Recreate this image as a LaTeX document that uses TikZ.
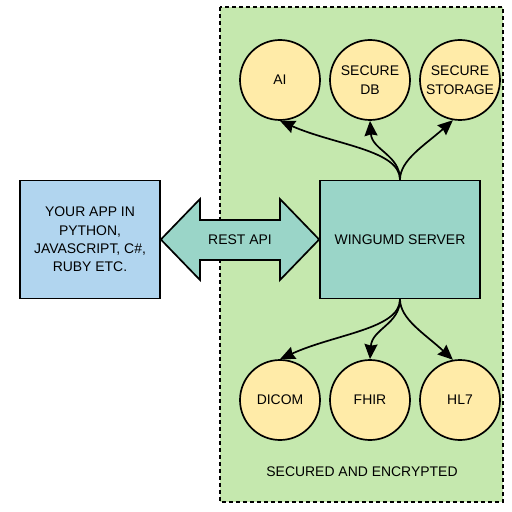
\documentclass[tikz,border=0pt]{standalone}
\usepackage{fontspec}
\setmainfont{Liberation Sans}
\usetikzlibrary{arrows.meta}
\definecolor{zonegreen}{HTML}{C5E8AE}
\definecolor{appblue}{HTML}{B1D5EF}
\definecolor{serverteal}{HTML}{9AD5C8}
\definecolor{circyellow}{HTML}{FFEBA8}
\tikzset{
  lbl/.style={font=\fontsize{14}{18.5}\selectfont, align=center, text=black},
  boxnode/.style={draw=black, line width=1.7bp, minimum width=140bp, minimum height=118bp, lbl},
  circnode/.style={circle, draw=black, line width=1.7bp, fill=circyellow, minimum size=80bp, inner sep=0pt, lbl},
  conn/.style={draw=black, line width=1.7bp, -{Stealth[length=15bp,width=13bp,inset=1.5bp]}},
}
\begin{document}
\begin{tikzpicture}[x=1bp,y=-1bp]
\useasboundingbox (0,0) rectangle (512,512);
% secured zone
\draw[fill=zonegreen, line width=1.7bp, dash pattern=on 4bp off 3bp] (220,7) rectangle (503,502);
\node[lbl] (zone) at (362,472) {SECURED AND ENCRYPTED};
% boxes
\node[boxnode, fill=appblue] (app) at (90,239.5) {YOUR APP IN\\PYTHON,\\JAVASCRIPT, C\#,\\RUBY ETC.};
\node[boxnode, fill=serverteal, minimum width=160bp] (server) at (400,239.5) {WINGUMD SERVER};
% double arrow
\draw[fill=serverteal, line width=1.7bp, line join=miter]
  (app.east) -- (200,199) -- (200,220) -- (280,220) -- (280,199) -- (server.west)
  -- (280,280) -- (280,260) -- (200,260) -- (200,280) -- cycle;
\node[lbl] (rest) at (240,240) {REST API};
% circles
\node[circnode] (ai) at (280,80) {AI};
\node[circnode] (db) at (370,80) {SECURE\\DB};
\node[circnode] (storage) at (460,80) {SECURE\\STORAGE};
\node[circnode] (dicom) at (280,400) {DICOM};
\node[circnode] (fhir) at (370,400) {FHIR};
\node[circnode] (hl7) at (460,400) {HL7};
% connectors
\draw[conn] (server.north) .. controls (400,150) and (335,145) .. (ai.south);
\draw[conn] (server.north) .. controls (400,155) and (372,150) .. (db.south);
\draw[conn] (server.north) .. controls (400,160) and (425,145) .. (storage.-100);
\draw[conn] (server.south) .. controls (400,329) and (335,334) .. (dicom.north);
\draw[conn] (server.south) .. controls (400,324) and (372,329) .. (fhir.north);
\draw[conn] (server.south) .. controls (400,319) and (425,334) .. (hl7.100);
\end{tikzpicture}
\end{document}
